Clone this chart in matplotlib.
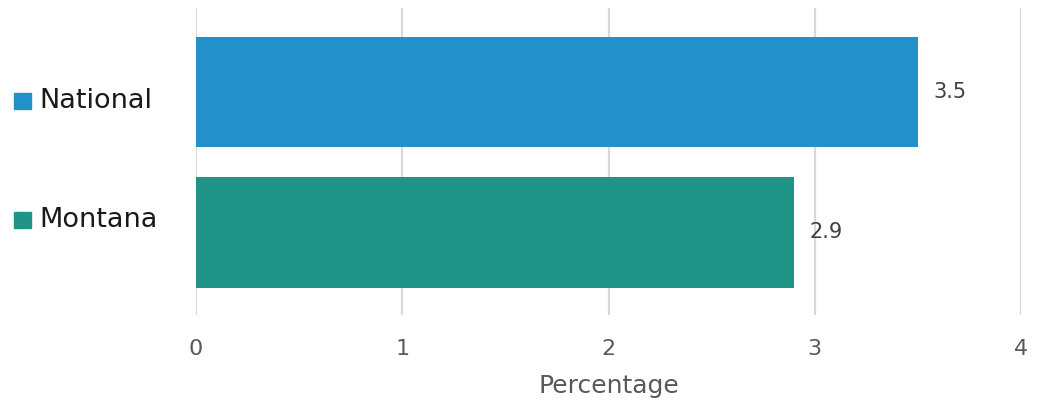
import matplotlib.pyplot as plt
from matplotlib.patches import Rectangle

# Share of population, by area
categories = ["Montana", "National"]
values = [2.9, 3.5]
bar_colors = ["#219488", "#2391C9"]
x_ticks = [0, 1, 2, 3, 4]

plt.rcParams['font.family'] = ['DejaVu Sans']

W, H = 1042, 405
fig = plt.figure(figsize=(W / 100, H / 100), dpi=100)
ax = fig.add_axes([196 / W, 1 - 315 / H, 825 / W, 307 / H])

pos = list(range(len(categories)))
ax.barh(pos, values, height=0.79, color=bar_colors, zorder=3)

# value labels to the right of each bar
for y, v in zip(pos, values):
    ax.annotate(f"{v}", xy=(v, y), xytext=(11, 0), textcoords="offset points",
                va="center", ha="left", fontsize=15, color="#404040")

ax.set_xlim(0, 4)
ax.set_ylim(-0.59, 1.60)
ax.set_xticks(x_ticks)
ax.set_xticklabels([str(t) for t in x_ticks])
ax.set_yticks([])
ax.grid(axis="x", color="#d9d9d9", linewidth=1.6, zorder=0)
ax.tick_params(axis="x", length=0, pad=17, labelsize=16, labelcolor="#595959")
for s in ax.spines.values():
    s.set_visible(False)
ax.set_xlabel("Percentage", fontsize=18, color="#595959", labelpad=11)

# legend drawn as square markers with names on the left
legend_y = {"National": 101, "Montana": 220}
for name, col in zip(categories, bar_colors):
    yc = legend_y[name]
    fig.patches.append(Rectangle((14 / W, 1 - (yc + 8) / H), 17 / W, 16 / H,
                                 transform=fig.transFigure, color=col))
    fig.text(39 / W, 1 - yc / H, name, fontsize=19.5, color="#1a1a1a",
             va="center", ha="left")

fig.savefig("out.png", dpi=100, facecolor="white")
